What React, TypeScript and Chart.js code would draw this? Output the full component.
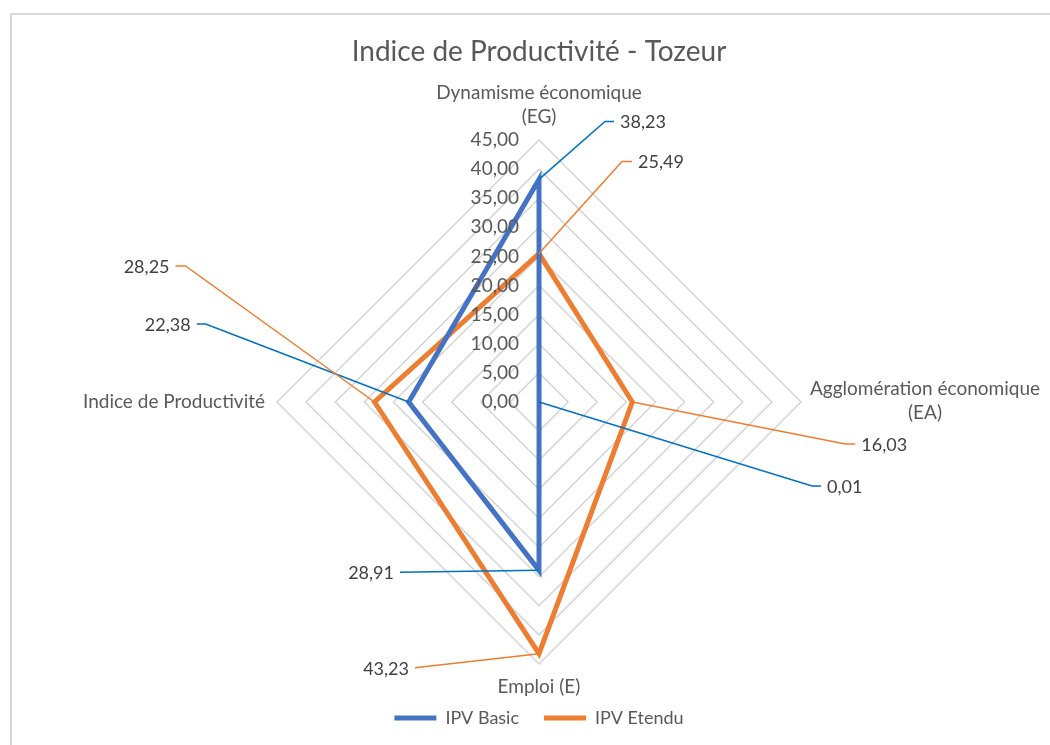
import React, { useEffect, useRef } from "react";
import { Chart, registerables } from "chart.js";

Chart.register(...registerables);

// ---- data ----
const categories: string[][] = [
  ["Dynamisme économique", "(EG)"],
  ["Agglomération économique", "(EA)"],
  ["Emploi (E)"],
  ["Indice de Productivité"],
];
const seriesNames = ["IPV Basic", "IPV Etendu"];
const ipvBasic = [38.23, 0.01, 28.91, 22.38];
const ipvEtendu = [25.49, 16.03, 43.23, 28.25];
const scaleMin = 0;
const scaleMax = 45;
const scaleStep = 5;
const chartTitle = "Indice de Productivité - Tozeur";

// ---- styles ----
const COLORS = ["#4472C4", "#ED7D31"];
const LEADER_COLORS = ["#0070C0", "#ED7D31"];
const TEXT = "#595959";
const LABEL_TEXT = "#404040";
const FONT = "Lato";

// leader line layout for data labels: [elbow dx, elbow dy, horizontal tail length]
const basicLabelLayout = [
  [66, -58, 9],
  [273, 84, 9],
  [-139, 2, 0],
  [-203, -78, 9],
];
const etenduLabelLayout = [
  [83, -92, 10],
  [213, 42, 10],
  [-124, 14, 0],
  [-189, -136, 10],
];
const labelLayouts = [basicLabelLayout, etenduLabelLayout];

const fmt = (v: number) => v.toFixed(2).replace(".", ",");

const overlayPlugin = {
  id: "overlay",
  afterDatasetsDraw(chart: any) {
    const scale = chart.scales.r;
    const ctx: CanvasRenderingContext2D = chart.ctx;
    ctx.save();

    // tick labels along the top axis
    ctx.font = `19px ${FONT}`;
    ctx.fillStyle = TEXT;
    ctx.textAlign = "right";
    ctx.textBaseline = "middle";
    scale.ticks.forEach((t: any) => {
      const d = scale.getDistanceFromCenterForValue(t.value);
      ctx.fillText(fmt(t.value), scale.xCenter - 20, scale.yCenter - d);
    });

    // data labels with leader lines
    chart.data.datasets.forEach((ds: any, di: number) => {
      const meta = chart.getDatasetMeta(di);
      meta.data.forEach((pt: any, i: number) => {
        const [dx, dy, tail] = labelLayouts[di][i];
        const ex = pt.x + dx;
        const ey = pt.y + dy;
        const dir = dx >= 0 ? 1 : -1;
        const tx = ex + dir * tail;
        ctx.strokeStyle = LEADER_COLORS[di];
        ctx.lineWidth = 1.5;
        ctx.beginPath();
        ctx.moveTo(pt.x, pt.y);
        ctx.lineTo(ex, ey);
        ctx.lineTo(tx, ey);
        ctx.stroke();
        ctx.font = `18px ${FONT}`;
        ctx.fillStyle = LABEL_TEXT;
        ctx.textAlign = dir > 0 ? "left" : "right";
        ctx.textBaseline = "middle";
        ctx.fillText(fmt(ds.data[i]), tx + dir * 6, ey + 1);
      });
    });

    // category (point) labels
    ctx.font = `19px ${FONT}`;
    ctx.fillStyle = TEXT;
    ctx.textBaseline = "middle";
    const r = scale.drawingArea;
    const lineH = 24;
    chart.data.labels.forEach((lines: string[], i: number) => {
      const p = scale.getPointPosition(i, r);
      const relX = p.x - scale.xCenter;
      const relY = p.y - scale.yCenter;
      if (Math.abs(relX) < 1 && relY < 0) {
        ctx.textAlign = "center";
        lines.forEach((s, k) => {
          ctx.fillText(s, p.x, p.y - 23 - (lines.length - 1 - k) * lineH);
        });
      } else if (Math.abs(relX) < 1 && relY > 0) {
        ctx.textAlign = "center";
        lines.forEach((s, k) => ctx.fillText(s, p.x, p.y + 23 + k * lineH));
      } else if (relX > 0) {
        const w = Math.max(...lines.map((s) => ctx.measureText(s).width));
        ctx.textAlign = "center";
        const cx = p.x + 9 + w / 2;
        const y0 = p.y - ((lines.length - 1) * lineH) / 2 - 1;
        lines.forEach((s, k) => ctx.fillText(s, cx, y0 + k * lineH));
      } else {
        const w = Math.max(...lines.map((s) => ctx.measureText(s).width));
        ctx.textAlign = "center";
        const cx = p.x - 12 - w / 2;
        const y0 = p.y - ((lines.length - 1) * lineH) / 2;
        lines.forEach((s, k) => ctx.fillText(s, cx, y0 + k * lineH));
      }
    });
    ctx.restore();
  },
};

export default function App() {
  const ref = useRef<HTMLCanvasElement | null>(null);
  useEffect(() => {
    if (!ref.current) return;
    Chart.defaults.font.family = FONT;
    const chart = new Chart(ref.current, {
      type: "radar",
      data: {
        labels: categories,
        datasets: [ipvBasic, ipvEtendu].map((d, i) => ({
          label: seriesNames[i],
          data: d,
          borderColor: COLORS[i],
          backgroundColor: COLORS[i],
          borderWidth: 5,
          borderCapStyle: "round" as const,
          fill: false,
          pointRadius: 0,
          pointHoverRadius: 0,
          tension: 0,
        })),
      },
      options: {
        responsive: false,
        animation: false,
        devicePixelRatio: 1,
        layout: { padding: { left: 277, right: 249, top: 0, bottom: 8 } },
        plugins: {
          title: {
            display: true,
            text: chartTitle,
            color: TEXT,
            font: { family: FONT, size: 28, weight: "normal" },
            padding: { top: 35.2, bottom: 51.2 },
          },
          legend: {
            display: true,
            position: "bottom",
            labels: {
              usePointStyle: true,
              pointStyle: "line",
              pointStyleWidth: 42,
              color: TEXT,
              font: { family: FONT, size: 18 },
              padding: 25,
            },
          },
          tooltip: { enabled: false },
        },
        scales: {
          r: {
            min: scaleMin,
            max: scaleMax,
            ticks: { stepSize: scaleStep, display: false },
            grid: { circular: false, color: "#d4d4d4", lineWidth: 1.5 },
            angleLines: { display: false },
            pointLabels: { display: false },
          },
        },
      },
      plugins: [overlayPlugin],
    });
    return () => chart.destroy();
  }, []);

  return (
    <div style={{ position: "fixed", left: 0, top: 0, width: 1050, height: 745, background: "#fff", overflow: "hidden" }}>
      <canvas ref={ref} width={1050} height={745} style={{ position: "absolute", left: 0, top: 0 }} />
      <div
        style={{
          position: "absolute",
          left: 10,
          top: 13,
          width: 1100,
          height: 800,
          borderLeft: "2px solid #d9d9d9",
          borderTop: "2px solid #d9d9d9",
          pointerEvents: "none",
        }}
      />
    </div>
  );
}
